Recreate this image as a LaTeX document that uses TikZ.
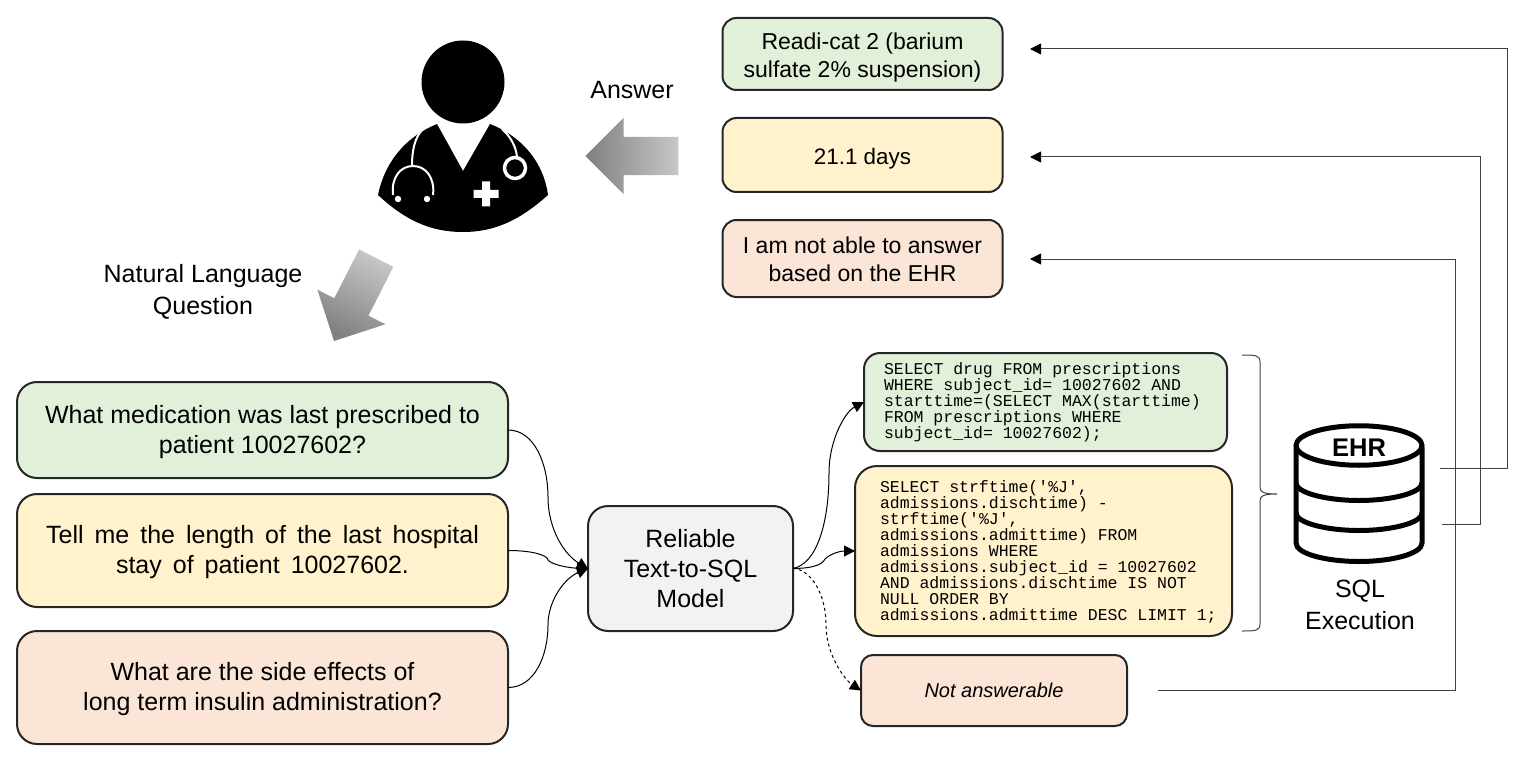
\documentclass[tikz,border=0pt]{standalone}
\usepackage{fontspec}
\setmainfont{Liberation Sans}
\setmonofont{Liberation Mono}
\usetikzlibrary{arrows.meta,positioning,shapes.arrows,shapes.geometric}
\definecolor{boxgreen}{HTML}{E2F0D9}
\definecolor{boxyellow}{HTML}{FFF2CC}
\definecolor{boxred}{HTML}{FBE5D6}
\definecolor{boxgray}{HTML}{F2F2F2}
\definecolor{edgedark}{HTML}{262626}
\newcommand{\firstline}[1]{\rule{0pt}{#1}}
\begin{document}
\begin{tikzpicture}[x=1pt,y=-1pt,>={Triangle[length=11pt,width=11pt]},
box/.style={draw=edgedark,line width=2pt,outer sep=0pt,inner sep=0pt,align=center},
question/.style={box,rounded corners=20pt,minimum width=491pt,font=\fontsize{25}{30}\selectfont},
answer/.style={box,rounded corners=14pt,minimum width=280pt,font=\fontsize{23}{28}\selectfont},
sqlbox/.style={box,align=left,execute at begin node={\spaceskip=9.9pt\relax},font=\fontsize{16.5}{16}\ttfamily},
plain/.style={align=center,font=\fontsize{25}{32}\selectfont},
link/.style={->,line width=1pt},
route/.style={-{Triangle[length=11pt,width=11pt,black]},line width=1pt,draw=black!75},
bigarrow/.style={single arrow,single arrow head indent=0pt,single arrow tip angle=90,single arrow head extend=19pt,minimum height=93pt,inner xsep=0pt,inner ysep=19pt,outer sep=0pt}]
\useasboundingbox (0,0) rectangle (1520,762);
% doctor
\fill (463,82) circle (41.5);
\fill (437,124) -- (463,171) -- (490,124) .. controls (525,138) and (544,165) .. (548,195) .. controls (520,220) and (495,232) .. (463,232) .. controls (430,232) and (405,220) .. (378,195) .. controls (384,165) and (403,138) .. (437,124) -- cycle;
\draw[white,line width=2pt] (423,129) .. controls (414,138) and (412,152) .. (412,166);
\draw[white,line width=2pt] (393,195) .. controls (391,178) and (400,166) .. (413,166) .. controls (426,166) and (435,178) .. (433,195);
\fill[white] (398,199) circle (3.2) (427,199) circle (3.2);
\draw[white,line width=2pt] (502,129) .. controls (510,136) and (516,146) .. (517,157);
\draw[white,line width=3.5pt] (515,168) circle (10.5);
\fill[white] (473.5,190) rectangle (498.5,198) (482,181.5) rectangle (490,206.5);
% answers
\node[answer,fill=boxgreen,minimum height=72pt] (ans1) at (862.5,54) {\firstline{23pt}Readi-cat 2 (barium\\sulfate 2\% suspension)};
\node[answer,fill=boxyellow,minimum height=74pt,below=28pt of ans1,font=\fontsize{22.4}{28}\selectfont] (ans2) {\firstline{24pt}21.1 days};
\node[answer,fill=boxred,minimum height=77pt,below=28pt of ans2] (ans3) {\firstline{19pt}I am not able to answer\\based on the EHR};
\node[plain] (answerlabel) at (632,90) {Answer};
\node[bigarrow,rotate=180,left color=black!50,right color=black!22] (answerarrow) at (641.5,156) {};
\node[plain] (asklabel) at (203,292) {Natural Language\\Question};
\node[bigarrow,rotate=243,top color=black!22,bottom color=black!50,shading angle=-27] (askarrow) at (359.5,291) {};
% questions
\node[question,fill=boxgreen,minimum height=96pt] (q1) at (262.5,430) {\firstline{22pt}What medication was last prescribed to\\patient 10027602?};
\node[question,fill=boxyellow,minimum height=113pt,below=16pt of q1,execute at begin node={\spaceskip=11pt\relax}] (q2) {\firstline{22pt}Tell me the length of the last hospital\\stay of patient 10027602.};
\node[question,fill=boxred,minimum height=113pt,below=24pt of q2] (q3) {\firstline{22pt}What are the side effects of\\long term insulin administration?};
\node[box,fill=boxgray,rounded corners=20pt,minimum width=205pt,minimum height=125pt,font=\fontsize{25}{30}\selectfont] (model) at (690.5,568.5) {Reliable\\Text-to-SQL\\Model};
% queries
\node[sqlbox,fill=boxgreen,rounded corners=16pt,minimum width=363pt,minimum height=98pt,text width=323pt] (sql1) at (1045.5,402) {SELECT drug FROM prescriptions\\WHERE subject\_id= 10027602 AND\\starttime=(SELECT MAX(starttime)\\FROM prescriptions WHERE\\subject\_id= 10027602);};
\node[sqlbox,fill=boxyellow,rounded corners=22pt,minimum width=377pt,minimum height=170pt,text width=327pt] (sql2) at (1043.5,551) {\firstline{13pt}SELECT strftime('\%J',\\admissions.dischtime) -\\strftime('\%J',\\admissions.admittime) FROM\\admissions WHERE\\admissions.subject\_id = 10027602\\AND admissions.dischtime IS NOT\\NULL ORDER BY\\\mbox{admissions.admittime DESC LIMIT 1;}};
\node[box,fill=boxred,rounded corners=12pt,minimum width=266pt,minimum height=71pt,font=\fontsize{20}{24}\itshape] (na) at (994,690.5) {Not answerable};
% database
\draw[line width=5pt] (1296,447) -- (1296,543) .. controls (1296,554) and (1327,561.5) .. (1359,561.5) .. controls (1391,561.5) and (1422,554) .. (1422,543) -- (1422,447);
\draw[line width=5pt] (1296,483) .. controls (1296,493) and (1327,500.5) .. (1359,500.5) .. controls (1391,500.5) and (1422,493) .. (1422,483);
\draw[line width=5pt] (1296,513) .. controls (1296,523) and (1327,530.5) .. (1359,530.5) .. controls (1391,530.5) and (1422,523) .. (1422,513);
\node[draw,ellipse,line width=5pt,minimum width=126pt,minimum height=39.5pt,inner sep=0pt,outer sep=0pt,font=\fontsize{25.5}{30}\bfseries] (ehr) at (1359,445.5) {\firstline{22.5pt}EHR};
\node[plain] (execlabel) at (1360,605) {SQL\\Execution};
% brace
\draw[line width=1pt,draw=black!75] (1242,355) .. controls (1255,355) and (1260,355) .. (1260,362) -- (1260,487) .. controls (1260,492) and (1263,494) .. (1277,494) .. controls (1263,494) and (1260,496) .. (1260,501) -- (1260,624) .. controls (1260,631) and (1255,631) .. (1242,631);
% connectors
\draw[link] (q1.east) .. controls +(27,0) and (548,465) .. (548,497) .. controls (548,530) and (565,555) .. (model.west);
\draw[link] (q2.east) .. controls +(27,0) and (548,556) .. (548,560) .. controls (552,565) and (570,568) .. (model.west);
\draw[link] (q3.east) .. controls +(27,0) and (548,655) .. (548,625) .. controls (548,600) and (565,578) .. (model.west);
\draw[link] (model.east) .. controls +(25,-5) and (829,520) .. (829,473) .. controls (829,440) and (845,412) .. (sql1.west);
\draw[link] (model.east) .. controls +(15,0) and (822,566) .. (825,559) .. controls (830,554) and (840,551) .. (sql2.west);
\draw[link,dashed] (model.east) .. controls +(15,0) and (826,590) .. (826,625) .. controls (826,655) and (845,680) .. (na.west);
\coordinate (ehrout1) at (1440,468);
\coordinate (ehrout2) at (1442,524);
\coordinate (naout) at (1158,690);
\coordinate (ans1in) at (1030,49);
\coordinate (ans2in) at (1030,157);
\coordinate (ans3in) at (1030,259);
\draw[route] (ehrout1) -- (1507,468) |- (ans1in);
\draw[route] (ehrout2) -- (1480,524) |- (ans2in);
\draw[route] (naout) -- (1455,690) |- (ans3in);
\end{tikzpicture}
\end{document}
